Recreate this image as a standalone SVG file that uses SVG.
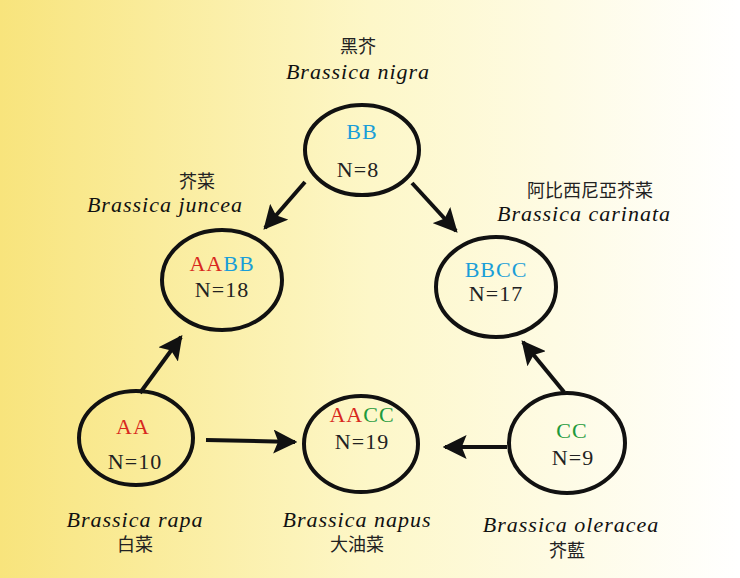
<svg xmlns="http://www.w3.org/2000/svg" width="740" height="578" viewBox="0 0 740 578">
<defs>
<linearGradient id="bg" x1="0" y1="0" x2="1" y2="0"><stop offset="0" stop-color="#f8e47c"/><stop offset="0.5" stop-color="#fdf7c8"/><stop offset="1" stop-color="#ffffff"/></linearGradient>
<marker id="ah" viewBox="0 0 10 10" refX="9" refY="5" markerWidth="6" markerHeight="6" orient="auto" markerUnits="strokeWidth"><path d="M0,0 L10,5 L0,10 L2,5 z" fill="#111"/></marker>
<style>
.n{fill:none;stroke:#111;stroke-width:4}
.t{font-family:"Liberation Serif",serif;font-size:22px;fill:#222;text-anchor:middle;letter-spacing:1px}
.l{font-family:"Liberation Serif",serif;font-size:22px;font-style:italic;fill:#111;text-anchor:middle;letter-spacing:1px}
.c{font-family:"Noto Sans CJK SC",sans-serif;font-size:18px;fill:#222;text-anchor:middle}
.r{fill:#d8281e}.b{fill:#1a9ed8}.g{fill:#1e9a3c}
.e{stroke:#111;stroke-width:4;fill:none;marker-end:url(#ah)}
</style>
</defs>
<rect width="740" height="578" fill="url(#bg)"/>
<g id="connectors">
<line class="e" x1="305" y1="182" x2="265" y2="228"/>
<line class="e" x1="412" y1="183" x2="456" y2="231"/>
<line class="e" x1="140" y1="393" x2="181" y2="337"/>
<line class="e" x1="564" y1="392" x2="523" y2="342"/>
<line class="e" x1="206" y1="440" x2="295" y2="442"/>
<line class="e" x1="507" y1="447" x2="445" y2="447"/>
</g>
<g id="nigra"><ellipse class="n" cx="362" cy="150" rx="57" ry="45"/><text class="t b" x="362" y="139">BB</text><text class="t" x="358" y="177">N=8</text><text class="c" x="358" y="53">黑芥</text><text class="l" x="358" y="79">Brassica nigra</text></g>
<g id="juncea"><ellipse class="n" cx="222" cy="280" rx="60" ry="50"/><text class="t" x="222" y="271"><tspan class="r">AA</tspan><tspan class="b">BB</tspan></text><text class="t" x="222" y="297">N=18</text><text class="c" x="197" y="188">芥菜</text><text class="l" x="165" y="212">Brassica juncea</text></g>
<g id="carinata"><ellipse class="n" cx="496" cy="287" rx="60" ry="50"/><text class="t b" x="496" y="277">BBCC</text><text class="t" x="496" y="301">N=17</text><text class="c" x="590" y="197">阿比西尼亞芥菜</text><text class="l" x="584" y="221">Brassica carinata</text></g>
<g id="rapa"><ellipse class="n" cx="136" cy="438" rx="57" ry="47"/><text class="t r" x="133" y="434">AA</text><text class="t" x="135" y="469">N=10</text><text class="l" x="135" y="527">Brassica rapa</text><text class="c" x="135" y="551">白菜</text></g>
<g id="napus"><ellipse class="n" cx="361" cy="444" rx="57" ry="48"/><text class="t" x="362" y="422"><tspan class="r">AA</tspan><tspan class="g">CC</tspan></text><text class="t" x="362" y="449">N=19</text><text class="l" x="357" y="527">Brassica napus</text><text class="c" x="357" y="551">大油菜</text></g>
<g id="oleracea"><ellipse class="n" cx="567" cy="443" rx="58" ry="50"/><text class="t g" x="572" y="438">CC</text><text class="t" x="573" y="465">N=9</text><text class="l" x="571" y="532">Brassica oleracea</text><text class="c" x="567" y="557">芥藍</text></g>
</svg>
